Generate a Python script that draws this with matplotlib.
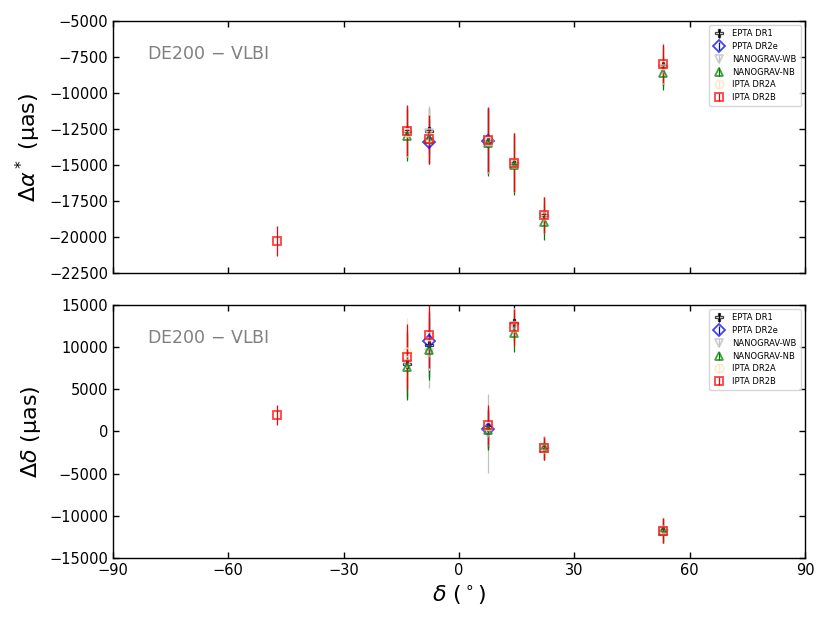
import numpy as np
import matplotlib
matplotlib.use("Agg")
import matplotlib.pyplot as plt

nan = np.nan
# pulsar declinations (deg)
dec = [-47.3, -13.5, -7.8, 7.5, 14.3, 22.1, 53.0]

series = ["EPTA DR1", "PPTA DR2e", "NANOGRAV-WB", "NANOGRAV-NB", "IPTA DR2A", "IPTA DR2B"]
colors = ["black", "blue", "silver", "green", "bisque", "red"]
markers = ["P", "D", "v", "^", "o", "s"]

# Delta alpha* (uas)
ra_epta = [nan, -12650, -12620, -13300, -14850, -18500, -8120]
ra_ppta = [nan, nan, -13390, -13320, nan, nan, nan]
ra_nwb = [nan, -12800, -12800, -13350, -14900, -18600, -8300]
ra_nnb = [nan, -12970, -13200, -13440, -15020, -18950, -8590]
ra_ipa = [nan, -12700, -13150, -13300, -14850, -18500, -8050]
ra_ipb = [-20270, -12620, -13200, -13250, -14830, -18450, -7960]
ra_err_epta = [nan, 1770, 1600, 2250, 2050, 1250, 1360]
ra_err_ppta = [nan, nan, 1500, 2250, nan, nan, nan]
ra_err_nwb = [nan, 1770, 1900, 2250, 2050, 1250, 1200]
ra_err_nnb = [nan, 1770, 1700, 2300, 2050, 1250, 1200]
ra_err_ipa = [nan, 1770, 1700, 2250, 2050, 1250, 1360]
ra_err_ipb = [1050, 1770, 1700, 2250, 2060, 1250, 1360]

# Delta delta (uas)
de_epta = [nan, 8030, 10290, 500, 12900, -1900, -11700]
de_ppta = [nan, nan, 10680, 270, nan, nan, nan]
de_nwb = [nan, 8000, 9310, -240, 12500, -1950, -11750]
de_nnb = [nan, 7640, 9700, 150, 11650, -2000, -11800]
de_ipa = [nan, 9390, 11300, 700, 12400, -1950, -11700]
de_ipb = [1940, 8850, 11450, 740, 12350, -2000, -11750]
de_err_epta = [nan, 3900, 3800, 2300, 2200, 1370, 1440]
de_err_ppta = [nan, nan, 3600, 2300, nan, nan, nan]
de_err_nwb = [nan, 3900, 4200, 4700, 2200, 1370, 1440]
de_err_nnb = [nan, 3900, 3600, 2300, 2200, 1370, 1440]
de_err_ipa = [nan, 4100, 4000, 2300, 2200, 1370, 1440]
de_err_ipb = [1230, 3860, 3900, 2340, 2230, 1370, 1440]

ra_vals = [ra_epta, ra_ppta, ra_nwb, ra_nnb, ra_ipa, ra_ipb]
ra_errs = [ra_err_epta, ra_err_ppta, ra_err_nwb, ra_err_nnb, ra_err_ipa, ra_err_ipb]
de_vals = [de_epta, de_ppta, de_nwb, de_nnb, de_ipa, de_ipb]
de_errs = [de_err_epta, de_err_ppta, de_err_nwb, de_err_nnb, de_err_ipa, de_err_ipb]

fig = plt.figure(figsize=(8.3, 6.23), dpi=100)
ax1 = fig.add_axes([0.136, 0.5618, 0.834, 0.4045])
ax2 = fig.add_axes([0.136, 0.1045, 0.834, 0.4059])

def draw(ax, vals, errs):
    for lab, c, m, v, e in zip(series, colors, markers, vals, errs):
        mw = 0.9 if m == "P" else 1.3
        eb = ax.errorbar(dec, v, yerr=e, fmt=m, color=c, mfc="none", mec=c,
                         ms=6, mew=mw, elinewidth=0.9, capsize=0, label=lab)
        eb[0].set_alpha(0.75)
    ax.set_xlim(-90, 90)
    ax.set_xticks([-90, -60, -30, 0, 30, 60, 90])
    ax.tick_params(direction="in", top=True, right=True, labelsize=10.5, length=4, width=1)
    for s in ax.spines.values():
        s.set_linewidth(1.0)
    ax.text(0.05, 0.87, "DE200 $-$ VLBI", transform=ax.transAxes, color="gray",
            fontsize=12.5, va="center")
    ax.legend(loc="upper right", fontsize=6, handlelength=1.5, borderpad=0.5, labelspacing=0.45)

draw(ax1, ra_vals, ra_errs)
ax1.set_ylim(-22500, -5000)
ax1.set_yticks(np.arange(-22500, -4999, 2500))
ax1.tick_params(labelbottom=False)
ax1.set_ylabel(r"$\Delta\alpha^*$ (μas)", fontsize=16)

draw(ax2, de_vals, de_errs)
ax2.set_ylim(-15000, 15000)
ax2.set_yticks(np.arange(-15000, 15001, 5000))
ax2.set_ylabel(r"$\Delta\delta$ (μas)", fontsize=16)
ax2.set_xlabel(r"$\delta$ ($^\circ$)", fontsize=16)

fig.savefig("out.png", dpi=100)
